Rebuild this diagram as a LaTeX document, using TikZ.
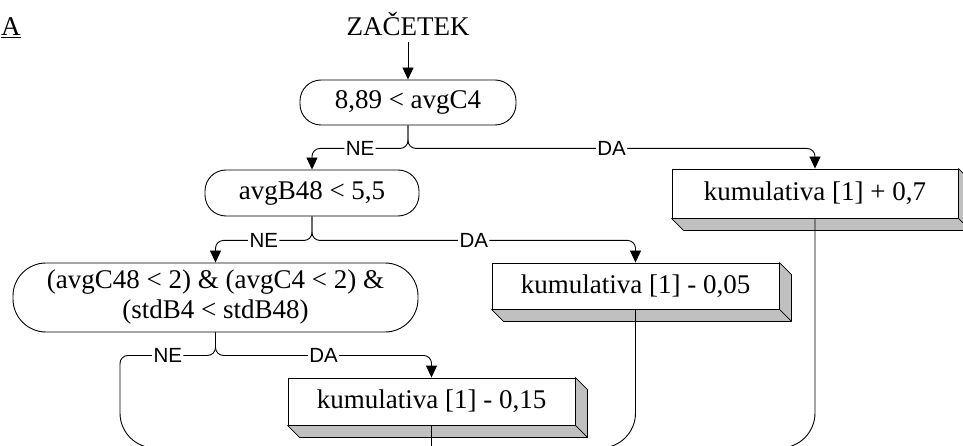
\documentclass[tikz,border=0pt]{standalone}
\usepackage{fontspec}
\setmainfont{Liberation Serif}
\newfontfamily\labfont{Liberation Sans}
\usetikzlibrary{arrows.meta,calc}
\definecolor{sidegray}{HTML}{C0C0C0}

\tikzset{
  txt/.style={font=\fontsize{27}{30}\selectfont},
  cond/.style={txt, draw, line width=0.9pt, rounded corners=21pt, inner sep=0pt, align=center},
  act/.style={txt, draw, fill=white, line width=0.9pt, inner sep=0pt,
              minimum width=287pt, minimum height=47pt},
  link/.style={line width=0.9pt, rounded corners=8pt},
  flow/.style={link, -{Triangle[width=11pt,length=12pt]}},
  lab/.style={font=\labfont\fontsize{20.5}{21}\selectfont, fill=white, inner sep=1.5pt},
}

% grey 3-D edge below and to the right of an action box
\newcommand\extrude[1]{%
  \filldraw[fill=sidegray, line width=0.7pt, line join=round]
    (#1.south west) -- ++(12,12) -- ($(#1.south east)+(12,12)$)
    -- ($(#1.north east)+(12,12)$) -- (#1.north east) -- (#1.south east) -- cycle;
  \draw[line width=0.7pt] (#1.south east) -- ++(12,12);
}

\begin{document}
\begin{tikzpicture}[x=1pt, y=-1pt]
  \useasboundingbox (0,0) rectangle (963,446);
  \clip (0,0) rectangle (963,446);

  % heading and start
  \node[txt, anchor=base west, inner sep=0pt] (title) at (1,36) {\underline{A}};
  \node[txt, anchor=base, inner sep=6pt] (start) at (408,36) {ZAČETEK};

  % decisions
  \node[cond, minimum width=216pt, minimum height=45pt] (n1) at (408,102.5) {8,89 < avgC4};
  \node[cond, minimum width=214pt, minimum height=46pt] (n2) at (312,193) {avgB48 < 5,5};
  \node[cond, rounded corners=33pt, minimum width=405pt, minimum height=69pt] (n3) at (215.5,297.5)
    {(avgC48 < 2) \& (avgC4 < 2) \&\\(stdB4 < stdB48)};

  % actions
  \node[act, minimum width=286pt, minimum height=49pt] (n6) at (815,193.5) {kumulativa [1] + 0,7};
  \node[act, minimum height=46pt] (n5) at (635.5,286) {kumulativa [1] - 0,05};
  \node[act] (n4) at (431.5,401.5) {kumulativa [1] - 0,15};
  \extrude{n6}
  \extrude{n5}
  \extrude{n4}

  % branch points
  \coordinate (s1) at ($(n1.south)+(0,23)$);
  \coordinate (s2) at ($(n2.south)+(0,24)$);
  \coordinate (s3) at ($(n3.south)+(0,23)$);

  % loose ends continuing below
  \coordinate (c3) at (120,448);
  \coordinate (e3) at (260,448);
  \coordinate (e4) at (431.5,460);
  \coordinate (e5) at (540,448);
  \coordinate (e6) at (720,448);

  \draw[flow] (start.south) -- (n1.north);

  \draw[flow] (n1.south) -- (s1) -- node[lab]{NE} (s1 -| n2.north) -- (n2.north);
  \draw[flow] (n1.south) -- (s1) -- node[lab]{DA} (s1 -| n6.north) -- (n6.north);

  \draw[flow] (n2.south) -- (s2) -- node[lab]{NE} (s2 -| n3.north) -- (n3.north);
  \draw[flow] (n2.south) -- (s2) -- node[lab]{DA} (s2 -| n5.north) -- (n5.north);

  \draw[flow] (n3.south) -- (s3) -- node[lab]{DA} (s3 -| n4.north) -- (n4.north);
  \draw[link] (n3.south) -- (s3) -- node[lab]{NE} (s3 -| c3)
    [rounded corners=35pt] -- (c3) -- (e3);

  \draw[link] (n4.south) -- (e4);
  \draw[link, rounded corners=35pt] (n5.south) |- (e5);
  \draw[link, rounded corners=35pt] (n6.south) |- (e6);
\end{tikzpicture}
\end{document}
